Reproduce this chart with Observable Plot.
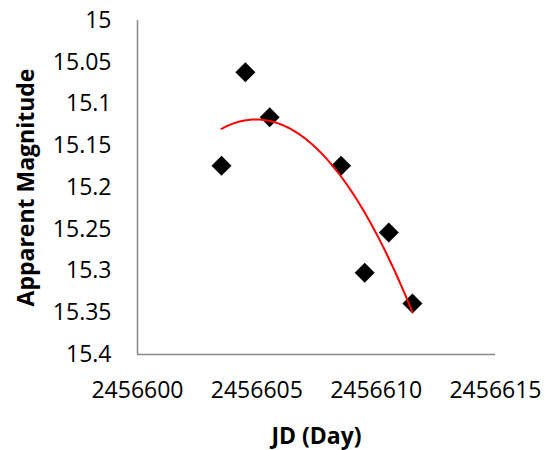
<!DOCTYPE html>
<html>
<head>
<meta charset="utf-8">
<script src="https://cdn.jsdelivr.net/npm/d3@7"></script>
<script src="https://cdn.jsdelivr.net/npm/@observablehq/plot@0.6"></script>
<style>
  body { margin: 0; background: #fff; }
  #chart svg { display: block; }
</style>
</head>
<body>
<div id="chart"></div>
<script>
// Data
const jd = [2456603.52, 2456604.52, 2456605.54, 2456608.53, 2456609.52, 2456610.53, 2456611.52];
const magnitude = [15.174, 15.062, 15.116, 15.174, 15.302, 15.254, 15.339];
const xTicks = [2456600, 2456605, 2456610, 2456615];
const yTicks = [15, 15.05, 15.1, 15.15, 15.2, 15.25, 15.3, 15.35, 15.4];
const xTitle = "JD (Day)";
const yTitle = "Apparent Magnitude";

const points = jd.map((x, i) => ({x, y: magnitude[i]}));

// Second-order polynomial trendline (least squares) computed from the data
function quadFit(xs, ys) {
  const n = xs.length;
  const mx = d3.mean(xs);
  const t = xs.map(x => x - mx);
  let s1 = 0, s2 = 0, s3 = 0, s4 = 0, sy = 0, sty = 0, st2y = 0;
  for (let i = 0; i < n; i++) {
    const a = t[i], y = ys[i];
    s1 += a; s2 += a * a; s3 += a * a * a; s4 += a * a * a * a;
    sy += y; sty += a * y; st2y += a * a * y;
  }
  const M = [[n, s1, s2, sy], [s1, s2, s3, sty], [s2, s3, s4, st2y]];
  for (let c = 0; c < 3; c++) {
    for (let r = c + 1; r < 3; r++) {
      const f = M[r][c] / M[c][c];
      for (let k = c; k < 4; k++) M[r][k] -= f * M[c][k];
    }
  }
  const coef = [0, 0, 0];
  for (let r = 2; r >= 0; r--) {
    let s = M[r][3];
    for (let k = r + 1; k < 3; k++) s -= M[r][k] * coef[k];
    coef[r] = s / M[r][r];
  }
  return x => coef[0] + coef[1] * (x - mx) + coef[2] * (x - mx) ** 2;
}
const fit = quadFit(jd, magnitude);
const [x0, x1] = d3.extent(jd);
const trend = d3.range(0, 101).map(i => {
  const x = x0 + (x1 - x0) * i / 100;
  return {x, y: fit(x)};
});

const font = "'Open Sans', sans-serif";

const chart = Plot.plot({
  width: 549,
  height: 450,
  marginLeft: 137,
  marginRight: 54,
  marginTop: 20,
  marginBottom: 96,
  style: {fontFamily: font, fontSize: "23px", color: "#000", background: "#fff"},
  x: {domain: [2456600, 2456615]},
  y: {domain: [15, 15.4], reverse: true},
  marks: [
    Plot.axisX({ticks: xTicks, tickFormat: d => String(d), tickSize: 0, tickPadding: 27, label: null, fontSize: 23}),
    Plot.axisY({ticks: yTicks, tickFormat: d => String(+d.toFixed(2)), tickSize: 0, tickPadding: 26, label: null, fontSize: 23}),
    Plot.ruleX([2456600], {stroke: "#898989", strokeWidth: 1.5}),
    Plot.ruleY([15.4], {stroke: "#898989", strokeWidth: 1.5}),
    Plot.dot(points, {x: "x", y: "y", symbol: "diamond2", r: 9, fill: "#000", stroke: "none"}),
    Plot.line(trend, {x: "x", y: "y", stroke: "#ff0000", strokeWidth: 2, curve: "linear"}),
    Plot.text([xTitle], {frameAnchor: "bottom", dy: 82, text: d => d, fontWeight: "bold", fontSize: 23, lineAnchor: "middle", textAnchor: "middle", fill: "#000"}),
    Plot.text([yTitle], {frameAnchor: "left", dx: -111, rotate: -90, text: d => d, fontWeight: "bold", fontSize: 23, lineAnchor: "middle", textAnchor: "middle", fill: "#000"})
  ]
});
document.getElementById("chart").append(chart);
</script>
</body>
</html>
